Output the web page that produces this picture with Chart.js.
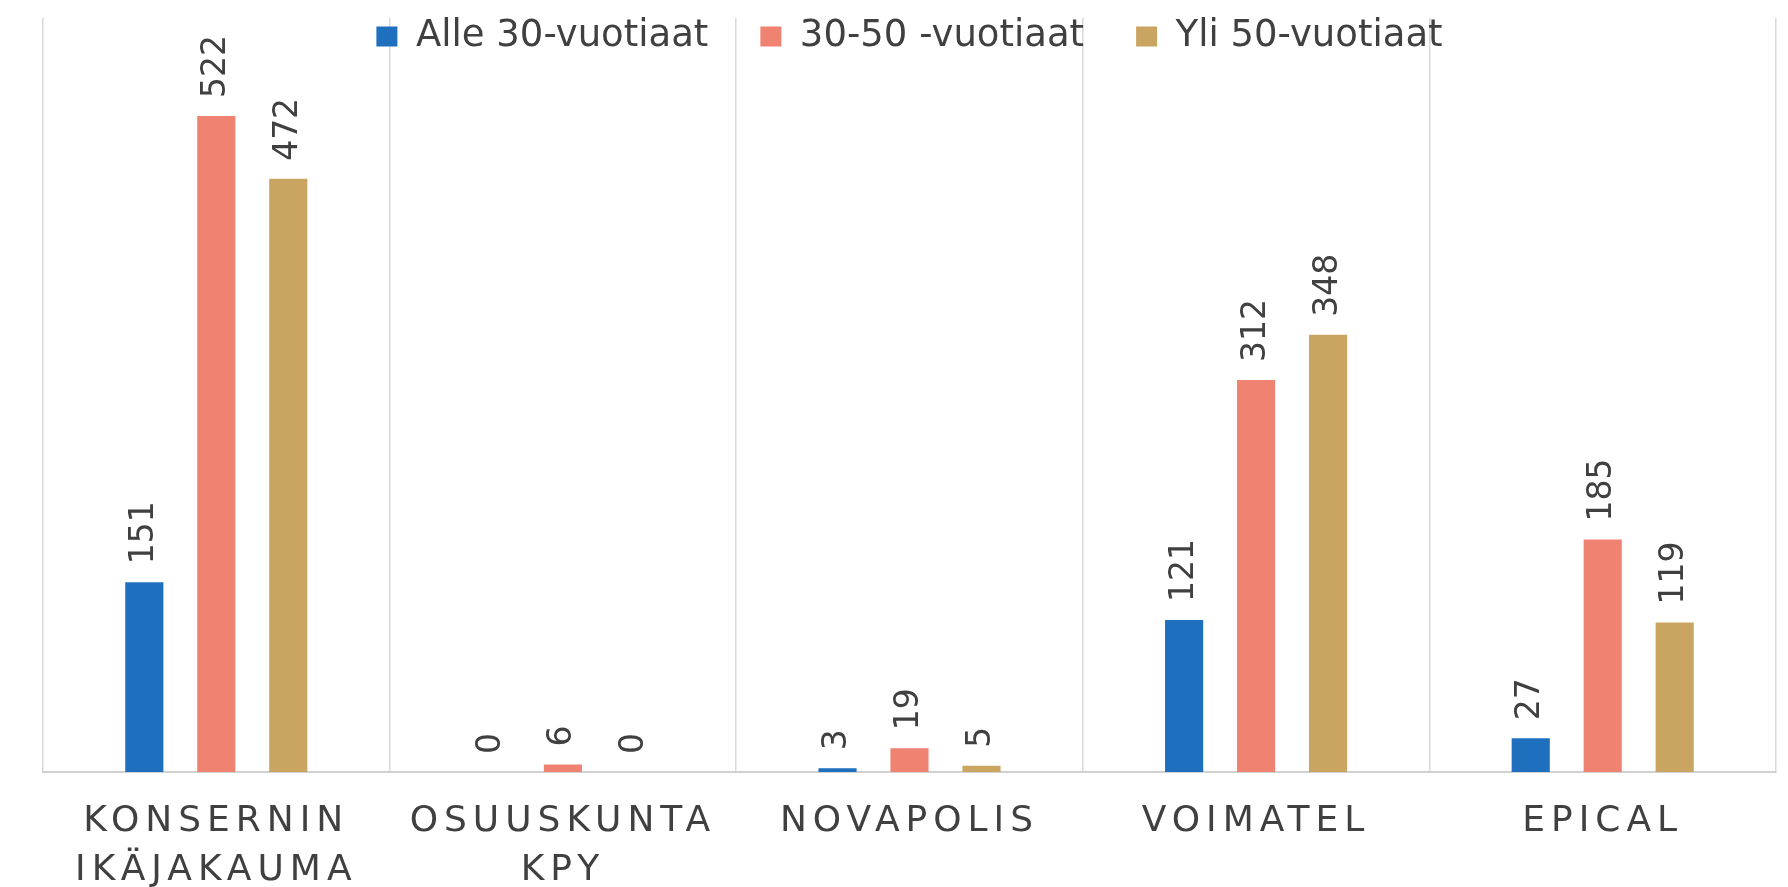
<!DOCTYPE html>
<html>
<head>
<meta charset="utf-8">
<script src="https://cdn.jsdelivr.net/npm/chart.js@4.4.1/dist/chart.umd.min.js"></script>
<style>
  html, body { margin: 0; padding: 0; background: #fff; }
  #wrap { width: 1788px; height: 887px; position: relative; }
</style>
</head>
<body>
<div id="wrap"><canvas id="age-chart"></canvas></div>
<script>
// age distribution per company
const categories = [['KONSERNIN', 'IKÄJAKAUMA'], ['OSUUSKUNTA', 'KPY'], 'NOVAPOLIS', 'VOIMATEL', 'EPICAL'];
const under30 = [151, 0, 3, 121, 27];
const from30to50 = [522, 6, 19, 312, 185];
const over50 = [472, 0, 5, 348, 119];
const seriesNames = ['Alle 30-vuotiaat', '30-50 -vuotiaat', 'Yli 50-vuotiaat'];
const seriesColors = ['#1f6fbf', '#f08272', '#caa461'];
const yMax = 600;

Chart.defaults.font.family = '"DejaVu Sans", sans-serif';
Chart.defaults.color = '#404040';

// numbers above the bars, rotated
const valueLabels = {
  id: 'valueLabels',
  afterDatasetsDraw(chart) {
    const ctx = chart.ctx;
    ctx.save();
    ctx.font = '33px "DejaVu Sans"';
    ctx.fillStyle = '#404040';
    ctx.textAlign = 'left';
    ctx.textBaseline = 'middle';
    chart.data.datasets.forEach((ds, i) => {
      chart.getDatasetMeta(i).data.forEach((bar, j) => {
        ctx.save();
        ctx.translate(bar.x, bar.y - 18);
        ctx.rotate(-Math.PI / 2);
        ctx.fillText(String(ds.data[j]), 0, 0);
        ctx.restore();
      });
    });
    ctx.restore();
  }
};

// legend sits over the top of the plot: let it draw below its own box
const legendOverlap = {
  id: 'legendOverlap',
  afterLayout(chart) {
    const lg = chart.legend;
    if (lg) lg.bottom = lg.top + 110;
  }
};

// wider letter spacing for the category labels only
const spacedTicks = {
  id: 'spacedTicks',
  beforeDraw(chart) {
    const sx = chart.scales.x;
    if (sx._spaced) return;
    const orig = sx.drawLabels.bind(sx);
    sx.drawLabels = function (area) {
      const c = this.ctx;
      c.save();
      c.letterSpacing = '6px';
      orig(area);
      c.restore();
    };
    sx._spaced = true;
  }
};

new Chart(document.getElementById('age-chart'), {
  type: 'bar',
  data: {
    labels: categories,
    datasets: [
      { label: seriesNames[0], data: under30, backgroundColor: seriesColors[0] },
      { label: seriesNames[1], data: from30to50, backgroundColor: seriesColors[1] },
      { label: seriesNames[2], data: over50, backgroundColor: seriesColors[2] }
    ]
  },
  options: {
    responsive: true,
    maintainAspectRatio: false,
    animation: false,
    categoryPercentage: 0.623,
    barPercentage: 0.53,
    layout: {
      padding: { top: -34, left: 43, right: 12, bottom: -33 }
    },
    scales: {
      x: {
        grid: {
          offset: true,
          drawTicks: false,
          lineWidth: 1.5,
          color: c => c.index >= categories.length ? 'rgba(0,0,0,0)' : '#d9d9d9'
        },
        border: { color: '#d0d0d0', width: 2 },
        ticks: {
          font: { size: 36, lineHeight: 1.36 },
          color: '#404040',
          padding: 25,
          maxRotation: 0,
          autoSkip: false
        }
      },
      y: {
        display: false,
        min: 0,
        max: yMax
      }
    },
    plugins: {
      legend: {
        position: 'top',
        maxHeight: 52,
        labels: {
          boxWidth: 21,
          boxHeight: 20,
          padding: 52,
          color: '#404040',
          font: { size: 37 }
        }
      },
      tooltip: { enabled: false }
    }
  },
  plugins: [valueLabels, legendOverlap, spacedTicks]
});
</script>
</body>
</html>
